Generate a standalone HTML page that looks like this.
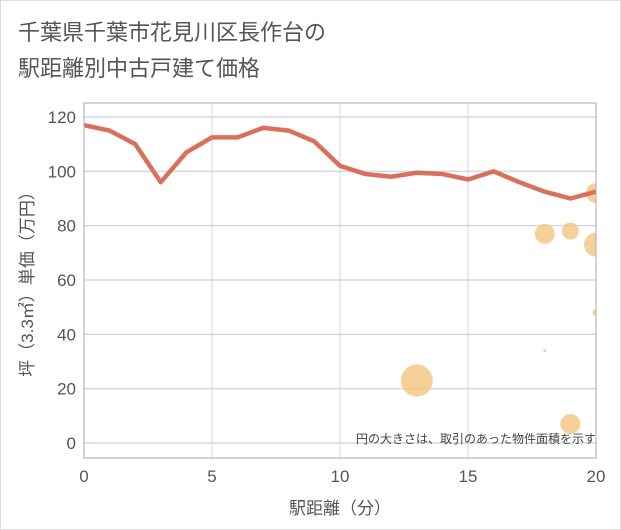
<!DOCTYPE html>
<html><head><meta charset="utf-8"><style>
body{margin:0;background:#fff;}
svg{display:block;font-family:"Liberation Sans","Noto Sans CJK JP",sans-serif;}
</style></head><body>
<svg width="621" height="530">
<rect x="0.5" y="0.5" width="620" height="529" fill="#fff" stroke="#ddd"/>
<text x="18" y="40" font-size="22" fill="#555">千葉県千葉市花見川区長作台の</text>
<text x="18" y="76" font-size="22" fill="#555">駅距離別中古戸建て価格</text>
<defs><clipPath id="pc"><rect x="84" y="103" width="512" height="355"/></clipPath></defs>
<g id="grid"></g>
<g id="bubbles" clip-path="url(#pc)"></g>
<g id="line" clip-path="url(#pc)"></g>
<rect x="84" y="103" width="512" height="355" fill="none" stroke="#aab"/>
<g id="axes"></g>
<text x="596" y="443" font-size="12" fill="#444" text-anchor="end">円の大きさは、取引のあった物件面積を示す</text>
<text x="340" y="514" font-size="17" fill="#555" text-anchor="middle">駅距離（分）</text>
<text transform="translate(33,280) rotate(-90)" font-size="17" fill="#555" text-anchor="middle">坪（3.3㎡）単価（万円）</text>
</svg>
<script>
const xTicks=[0,5,10,15,20];
const yTicks=[0,20,40,60,80,100,120];
const lineX=[0,1,2,3,4,5,6,7,8,9,10,11,12,13,14,15,16,17,18,19,20];
const lineY=[117,115,110,96,107,112.5,112.5,116,115,111,102,99,98,99.5,99,97,100,96,92.5,90,92.5];
const bubX=[18,19,20,20,20,18,13,19,20];
const bubY=[77,78,73,92,48,34,23,7,37];
const bubR=[10,8.5,12,10,3.5,1.5,16,10,1];
const NS="http://www.w3.org/2000/svg";
const sx=v=>84+v*(512/20);
const sy=v=>443-v*(326/120);
function mk(t,a,p){const e=document.createElementNS(NS,t);for(const k in a)e.setAttribute(k,a[k]);p.appendChild(e);return e;}
const grid=document.getElementById('grid'),axes=document.getElementById('axes');
yTicks.forEach(v=>{const l=mk('line',{x1:84,x2:596,y1:sy(v),y2:sy(v),stroke:'#cfd9e6','stroke-width':1.5},grid);


const t=mk('text',{x:76,y:sy(v)+6,'font-size':17,fill:'#555','text-anchor':'end'},axes);t.textContent=v;

});
xTicks.forEach(v=>{const l=mk('line',{x1:sx(v),x2:sx(v),y1:103,y2:458,stroke:'#cfd9e6','stroke-width':1},grid);


const t=mk('text',{x:sx(v),y:482,'font-size':17,fill:'#555','text-anchor':'middle'},axes);t.textContent=v;

});
const bg=document.getElementById('bubbles');
bubX.forEach((x,i)=>{const c=mk('circle',{cx:sx(x),cy:sy(bubY[i]),r:bubR[i],fill:'#f3c47f','fill-opacity':0.8},bg);

});
const p=mk('polyline',{points:lineX.map((x,i)=>sx(x)+','+sy(lineY[i])).join(' '),fill:'none',stroke:'#d9705a','stroke-width':4.5,'stroke-linejoin':'round'},document.getElementById('line'));


</script>
</body></html>
